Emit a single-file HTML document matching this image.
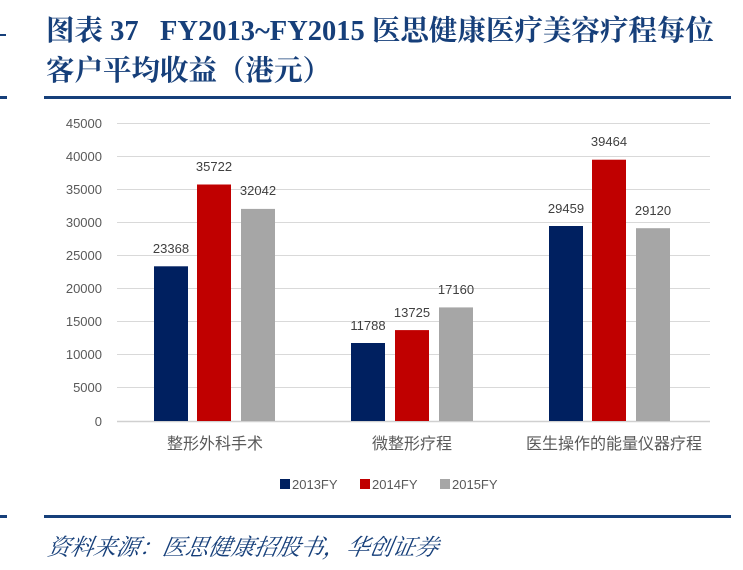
<!DOCTYPE html>
<html><head><meta charset="utf-8"><style>
body{margin:0;width:743px;height:570px;background:#fff;overflow:hidden;position:relative;font-family:"Liberation Sans","Noto Sans CJK SC",sans-serif}
.t{position:absolute;left:46px;color:#163f7a;font-family:"Liberation Serif","Noto Serif CJK SC",serif;font-weight:bold;font-size:28.5px;white-space:nowrap}
.src{position:absolute;left:48px;top:529px;color:#163f7a;font-style:italic;font-size:23px;font-family:"Liberation Serif","Noto Serif CJK SC",serif;transform:skewX(-10deg);white-space:nowrap}
</style></head><body>
<div class="t" style="top:8px">图表 37&nbsp;&nbsp; FY2013~FY2015 医思健康医疗美容疗程每位</div>
<div class="t" style="top:48px;">客户平均收益（港元）</div>
<div style="position:absolute;left:0;top:96px;width:7px;height:3px;background:#163f7a"></div>
<div style="position:absolute;left:44px;top:96px;width:687px;height:3px;background:#163f7a"></div>
<div style="position:absolute;left:0;top:515px;width:7px;height:3px;background:#163f7a"></div>
<div style="position:absolute;left:44px;top:515px;width:687px;height:3px;background:#163f7a"></div>
<div style="position:absolute;left:0;top:34px;width:6px;height:2px;background:#163f7a"></div>
<svg width="743" height="570" style="position:absolute;left:0;top:0" font-family="Liberation Sans, Noto Sans CJK SC, sans-serif">
<g stroke="#d9d9d9" stroke-width="1">
<line x1="117" x2="710" y1="123.5" y2="123.5"/><line x1="117" x2="710" y1="156.5" y2="156.5"/><line x1="117" x2="710" y1="189.5" y2="189.5"/><line x1="117" x2="710" y1="222.5" y2="222.5"/><line x1="117" x2="710" y1="255.5" y2="255.5"/><line x1="117" x2="710" y1="288.5" y2="288.5"/><line x1="117" x2="710" y1="321.5" y2="321.5"/><line x1="117" x2="710" y1="354.5" y2="354.5"/><line x1="117" x2="710" y1="387.5" y2="387.5"/>
</g>
<line x1="117" x2="710" y1="421.5" y2="421.5" stroke="#d0d0d0" stroke-width="1.5"/>
<g font-size="13" fill="#595959" text-anchor="end">
<text x="102" y="128">45000</text><text x="102" y="161">40000</text><text x="102" y="194">35000</text><text x="102" y="227">30000</text><text x="102" y="260">25000</text><text x="102" y="293">20000</text><text x="102" y="326">15000</text><text x="102" y="359">10000</text><text x="102" y="392">5000</text><text x="102" y="426">0</text>
</g>
<g>
<rect x="154" y="266.3" width="34" height="154.7" fill="#002060"/>
<rect x="197" y="184.5" width="34" height="236.5" fill="#c00000"/>
<rect x="241" y="208.9" width="34" height="212.1" fill="#a6a6a6"/>
<rect x="351" y="343" width="34" height="78" fill="#002060"/>
<rect x="395" y="330.1" width="34" height="90.9" fill="#c00000"/>
<rect x="439" y="307.4" width="34" height="113.6" fill="#a6a6a6"/>
<rect x="549" y="226" width="34" height="195" fill="#002060"/>
<rect x="592" y="159.7" width="34" height="261.3" fill="#c00000"/>
<rect x="636" y="228.2" width="34" height="192.8" fill="#a6a6a6"/>
</g>
<g font-size="13" fill="#404040" text-anchor="middle">
<text x="171" y="253">23368</text><text x="214" y="171">35722</text><text x="258" y="195">32042</text>
<text x="368" y="330">11788</text><text x="412" y="317">13725</text><text x="456" y="294">17160</text>
<text x="566" y="213">29459</text><text x="609" y="146">39464</text><text x="653" y="215">29120</text>
</g>
<g font-size="16" fill="#595959" text-anchor="middle">
<text x="215" y="449">整形外科手术</text><text x="412" y="449">微整形疗程</text><text x="614" y="449">医生操作的能量仪器疗程</text>
</g>
<g font-size="13" fill="#595959">
<rect x="280" y="479" width="10" height="10" fill="#002060"/><text x="292" y="489">2013FY</text>
<rect x="360" y="479" width="10" height="10" fill="#c00000"/><text x="372" y="489">2014FY</text>
<rect x="440" y="479" width="10" height="10" fill="#a6a6a6"/><text x="452" y="489">2015FY</text>
</g>
</svg>
<div class="src">资料来源：医思健康招股书，华创证券</div>
</body></html>
